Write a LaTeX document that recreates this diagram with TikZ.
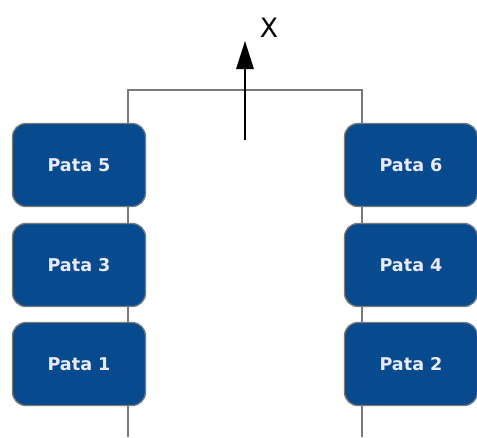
\documentclass[tikz,border=0pt]{standalone}
\usepackage{fontspec}
\setmainfont{DejaVu Sans}
\usetikzlibrary{arrows.meta}
\definecolor{patablue}{HTML}{084A8E}
\definecolor{lineg}{HTML}{7A7A7A}
\tikzset{
  pata/.style={rectangle, rounded corners=10pt, fill=patablue, draw=lineg, line width=1pt,
    minimum width=133*0.75pt, minimum height=83*0.75pt, text=white!92!blue, font=\bfseries\fontsize{13.2}{15}\selectfont},
  frame/.style={draw=lineg, line width=1.8pt},
  dirarrow/.style={draw=black, line width=1.6pt, -{Triangle[length=21pt,width=13pt]}}
}
\begin{document}
\begin{tikzpicture}[x=0.75pt,y=-0.75pt]
\useasboundingbox (0,0) rectangle (477,437);
\coordinate (lb) at (128,437);
\coordinate (lt) at (128,90);
\coordinate (rt) at (362,90);
\coordinate (rb) at (362,437);
\draw[frame] (lb) -- (lt) -- (rt) -- (rb);
\node[pata] (p5) at (79,165) {Pata 5};
\node[pata] (p3) at (79,265) {Pata 3};
\node[pata] (p1) at (79,364) {Pata 1};
\node[pata] (p6) at (411,165) {Pata 6};
\node[pata] (p4) at (411,265) {Pata 4};
\node[pata] (p2) at (411,364) {Pata 2};
\coordinate (a0) at (245,140);
\coordinate (a1) at (245,41);
\draw[dirarrow] (a0) -- (a1);
\node[font=\fontsize{20}{22}\selectfont] (xl) at (269,28) {X};
\end{tikzpicture}
\end{document}
